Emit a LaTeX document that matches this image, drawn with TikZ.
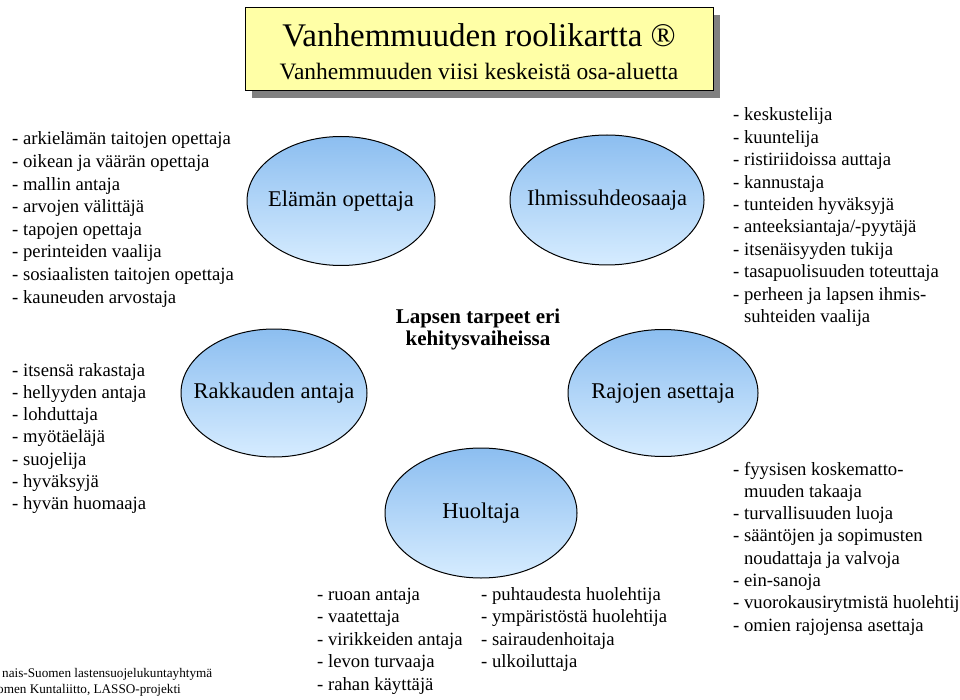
\documentclass[tikz,border=0pt]{standalone}
\usepackage{fontspec}
\setmainfont{Liberation Serif}
\usetikzlibrary{shapes.geometric,shadows}
\definecolor{elltop}{RGB}{140,190,240}
\definecolor{ellbot}{RGB}{214,236,255}
\definecolor{titlefill}{RGB}{255,255,166}
\definecolor{shadowgray}{RGB}{128,128,128}
\newcommand{\rolelabel}[1]{\makebox[0pt][c]{#1}}
\begin{document}
\begin{tikzpicture}[x=1pt,y=-1pt,
  role/.style={ellipse, draw=black, line width=1pt, top color=elltop, bottom color=ellbot,
    minimum width=190pt, minimum height=129pt, inner sep=0pt, font=\fontsize{22.5}{27}\selectfont},
  item/.style={anchor=base west, inner sep=0pt, font=\fontsize{18.7}{22.5}\selectfont},
  foot/.style={anchor=base west, inner sep=0pt, font=\fontsize{13.2}{16}\selectfont},
  titlebox/.style={draw=black, line width=0.9pt, fill=titlefill, minimum width=468pt, minimum height=83pt,
    drop shadow={shadow xshift=7pt, shadow yshift=-8pt, fill=shadowgray, opacity=1}},
  titletext/.style={anchor=base, inner sep=0pt}
]
\useasboundingbox (0,0) rectangle (960,700);
\clip (0,0) rectangle (960,700);
\fill[white] (0,0) rectangle (960,700);

% title
\node[titlebox] (title) at (479,48.5) {};
\node[titletext, font=\fontsize{33}{38}\selectfont] (t1) at (479,47) {Vanhemmuuden roolikartta ®};
\node[titletext, font=\fontsize{23.5}{28}\selectfont] (t2) at (479,80) {Vanhemmuuden viisi keskeistä osa-aluetta};

% roles
\node[role, minimum width=188pt, minimum height=129pt] (elama) at (341,201) {\rolelabel{Elämän opettaja}};
\node[role, minimum width=194pt, minimum height=130pt] (ihmis) at (607,200) {\rolelabel{Ihmissuhdeosaaja}};
\node[role, minimum width=186pt, minimum height=128pt] (rakkaus) at (274,393) {\rolelabel{Rakkauden antaja}};
\node[role, minimum width=190pt, minimum height=127pt] (rajat) at (663,393) {\rolelabel{Rajojen asettaja}};
\node[role, minimum width=192pt, minimum height=130pt] (huolto) at (481,513) {\rolelabel{Huoltaja}};

% centre
\node[align=center, inner sep=0pt, font=\fontsize{21}{22}\selectfont\bfseries] (lapsi) at (478,329)
  {Lapsen tarpeet eri\\kehitysvaiheissa};

% left list 1
\foreach \t [count=\i] in {- arkielämän taitojen opettaja, - oikean ja väärän opettaja, - mallin antaja,
  - arvojen välittäjä, - tapojen opettaja, - perinteiden vaalija, - sosiaalisten taitojen opettaja,
  - kauneuden arvostaja}
  \node[item] (la\i) at (12,{145+22.6*(\i-1)}) {\t};

% left list 2
\foreach \t [count=\i] in {- itsensä rakastaja, - hellyyden antaja, - lohduttaja, - myötäeläjä,
  - suojelija, - hyväksyjä, - hyvän huomaaja}
  \node[item] (lb\i) at (12,{376+22.3*(\i-1)}) {\t};

% right list 1
\foreach \t [count=\i] in {- keskustelija, - kuuntelija, - ristiriidoissa auttaja, - kannustaja,
  - tunteiden hyväksyjä, - anteeksiantaja/-pyytäjä, - itsenäisyyden tukija,
  - tasapuolisuuden toteuttaja, - perheen ja lapsen ihmis-, \phantom{- }suhteiden vaalija}
  \node[item] (ra\i) at (733,{121+22.4*(\i-1)}) {\t};

% right list 2
\foreach \t [count=\i] in {- fyysisen koskematto-, \phantom{- }muuden takaaja, - turvallisuuden luoja,
  - sääntöjen ja sopimusten, \phantom{- }noudattaja ja valvoja, - ein-sanoja,
  - vuorokausirytmistä huolehtija, - omien rajojensa asettaja}
  \node[item] (rb\i) at (733,{475+22.3*(\i-1)}) {\t};

% bottom lists
\foreach \t [count=\i] in {- ruoan antaja, - vaatettaja, - virikkeiden antaja, - levon turvaaja,
  - rahan käyttäjä}
  \node[item] (ba\i) at (317,{600+22.6*(\i-1)}) {\t};
\foreach \t [count=\i] in {- puhtaudesta huolehtija, - ympäristöstä huolehtija, - sairaudenhoitaja,
  - ulkoiluttaja}
  \node[item] (bb\i) at (481,{600+22.6*(\i-1)}) {\t};

% footer
\node[foot] (f1) at (2,677) {nais-Suomen lastensuojelukuntayhtymä};
\node[foot] (f2) at (-3,693) {omen Kuntaliitto, LASSO-projekti};
\end{tikzpicture}
\end{document}
